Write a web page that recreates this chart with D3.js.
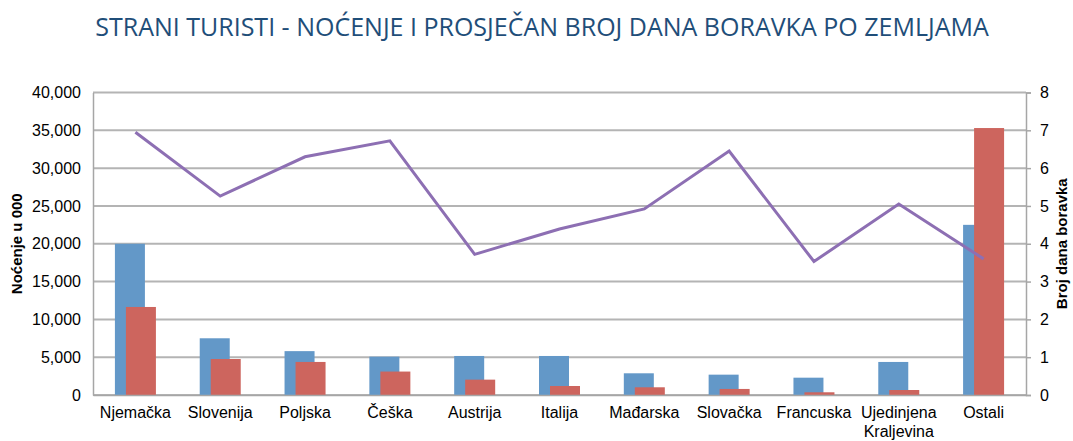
<!DOCTYPE html>
<html>
<head>
<meta charset="utf-8">
<script src="https://cdn.jsdelivr.net/npm/d3@7"></script>
<style>
  body { margin: 0; background: #fff; }
  svg text { font-family: "Liberation Sans", Arial, sans-serif; }
</style>
</head>
<body>
<div id="chart"></div>
<script>
const categories = ['Njemačka', 'Slovenija', 'Poljska', 'Češka', 'Austrija', 'Italija',
  'Mađarska', 'Slovačka', 'Francuska', 'Ujedinjena Kraljevina', 'Ostali'];
const nightsA = [20000, 7500, 5800, 5070, 5160, 5160, 2870, 2690, 2290, 4370, 22500];
const nightsB = [11640, 4760, 4370, 3100, 2030, 1190, 1020, 800, 360, 660, 35300];
const avgDays = [6.95, 5.26, 6.3, 6.72, 3.72, 4.39, 4.92, 6.45, 3.53, 5.05, 3.6];
const leftTicks = [0, 5000, 10000, 15000, 20000, 25000, 30000, 35000, 40000];
const rightTicks = [0, 1, 2, 3, 4, 5, 6, 7, 8];

const width = 1073, height = 441;
const margin = {top: 92.5, right: 47, bottom: 46, left: 93};
const innerW = width - margin.left - margin.right;
const innerH = height - margin.top - margin.bottom;

const svg = d3.select('#chart').append('svg')
  .attr('width', width)
  .attr('height', height);

svg.append('text')
  .attr('x', 542)
  .attr('y', 36)
  .attr('text-anchor', 'middle')
  .style('font-family', '"Open Sans", sans-serif')
  .style('font-size', '25px')
  .style('fill', '#1f4e79')
  .text('STRANI TURISTI - NOĆENJE I PROSJEČAN BROJ DANA BORAVKA PO ZEMLJAMA');

const g = svg.append('g').attr('transform', `translate(${margin.left},${margin.top})`);

const x = d3.scaleBand().domain(categories).range([0, innerW]);
const yL = d3.scaleLinear().domain([0, 40000]).range([innerH, 0]);
const yR = d3.scaleLinear().domain([0, 8]).range([innerH, 0]);

// grid
g.selectAll('line.grid')
  .data(leftTicks)
  .enter().append('line')
  .attr('class', 'grid')
  .attr('x1', 0)
  .attr('x2', innerW)
  .attr('y1', (d) => yL(d))
  .attr('y2', (d) => yL(d))
  .style('stroke', '#b4b4b4')
  .style('stroke-width', 2);

// bars
const barW = 30;
const offset = 11;
g.selectAll('rect.a')
  .data(categories)
  .enter().append('rect')
  .attr('class', 'a')
  .attr('x', (d) => x(d) + x.bandwidth() / 2 - 20.5)
  .attr('y', (d, i) => yL(nightsA[i]))
  .attr('width', barW)
  .attr('height', (d, i) => innerH - yL(nightsA[i]))
  .style('fill', '#6398c8');

g.selectAll('rect.b')
  .data(categories)
  .enter().append('rect')
  .attr('class', 'b')
  .attr('x', (d) => x(d) + x.bandwidth() / 2 - 20.5 + offset)
  .attr('y', (d, i) => yL(nightsB[i]))
  .attr('width', barW)
  .attr('height', (d, i) => innerH - yL(nightsB[i]))
  .style('fill', '#cd655e');

// line
const line = d3.line()
  .x((d, i) => x(categories[i]) + x.bandwidth() / 2)
  .y((d) => yR(d));

g.append('path')
  .datum(avgDays)
  .attr('d', line)
  .style('fill', 'none')
  .style('stroke', '#8d6fb3')
  .style('stroke-width', 3)
  .style('stroke-linejoin', 'miter');

// axes
const leftAxis = d3.axisLeft(yL).tickValues(leftTicks).tickSize(0).tickPadding(12)
  .tickFormat(d3.format(','));
const gl = g.append('g').call(leftAxis);
gl.select('.domain').style('stroke', '#a6a6a6').style('stroke-width', 1.5);
gl.selectAll('text').style('font-size', '16px').style('fill', '#000');

const rightAxis = d3.axisRight(yR).tickValues(rightTicks).tickSize(5).tickPadding(9);
const gr = g.append('g').attr('transform', `translate(${innerW},0)`).call(rightAxis);
gr.select('.domain').style('stroke', '#a6a6a6').style('stroke-width', 1.5);
gr.selectAll('line').style('stroke', '#a6a6a6').style('stroke-width', 1.5);
gr.selectAll('text').style('font-size', '16px').style('fill', '#000');

const bottomAxis = d3.axisBottom(x).tickSize(0).tickPadding(12);
const gb = g.append('g').attr('transform', `translate(0,${innerH})`).call(bottomAxis);
gb.select('.domain').style('stroke', '#a6a6a6').style('stroke-width', 1.5);
gb.selectAll('text')
  .style('font-size', '16px')
  .style('fill', '#000')
  .each(function(d) {
    const t = d3.select(this);
    if (d === 'Ujedinjena Kraljevina') {
      t.text(null);
      t.append('tspan').attr('x', 0).attr('dy', '0.71em').text('Ujedinjena');
      t.append('tspan').attr('x', 0).attr('dy', '1.15em').text('Kraljevina');
      t.attr('dy', null);
    }
  });

// axis titles
svg.append('text')
  .attr('transform', `translate(22,${margin.top + innerH / 2}) rotate(-90)`)
  .attr('text-anchor', 'middle')
  .style('font-size', '15px')
  .style('font-weight', 'bold')
  .text('Noćenje u 000');

svg.append('text')
  .attr('transform', `translate(1067,${margin.top + innerH / 2}) rotate(-90)`)
  .attr('text-anchor', 'middle')
  .style('font-size', '15px')
  .style('font-weight', 'bold')
  .text('Broj dana boravka');
</script>
</body>
</html>
